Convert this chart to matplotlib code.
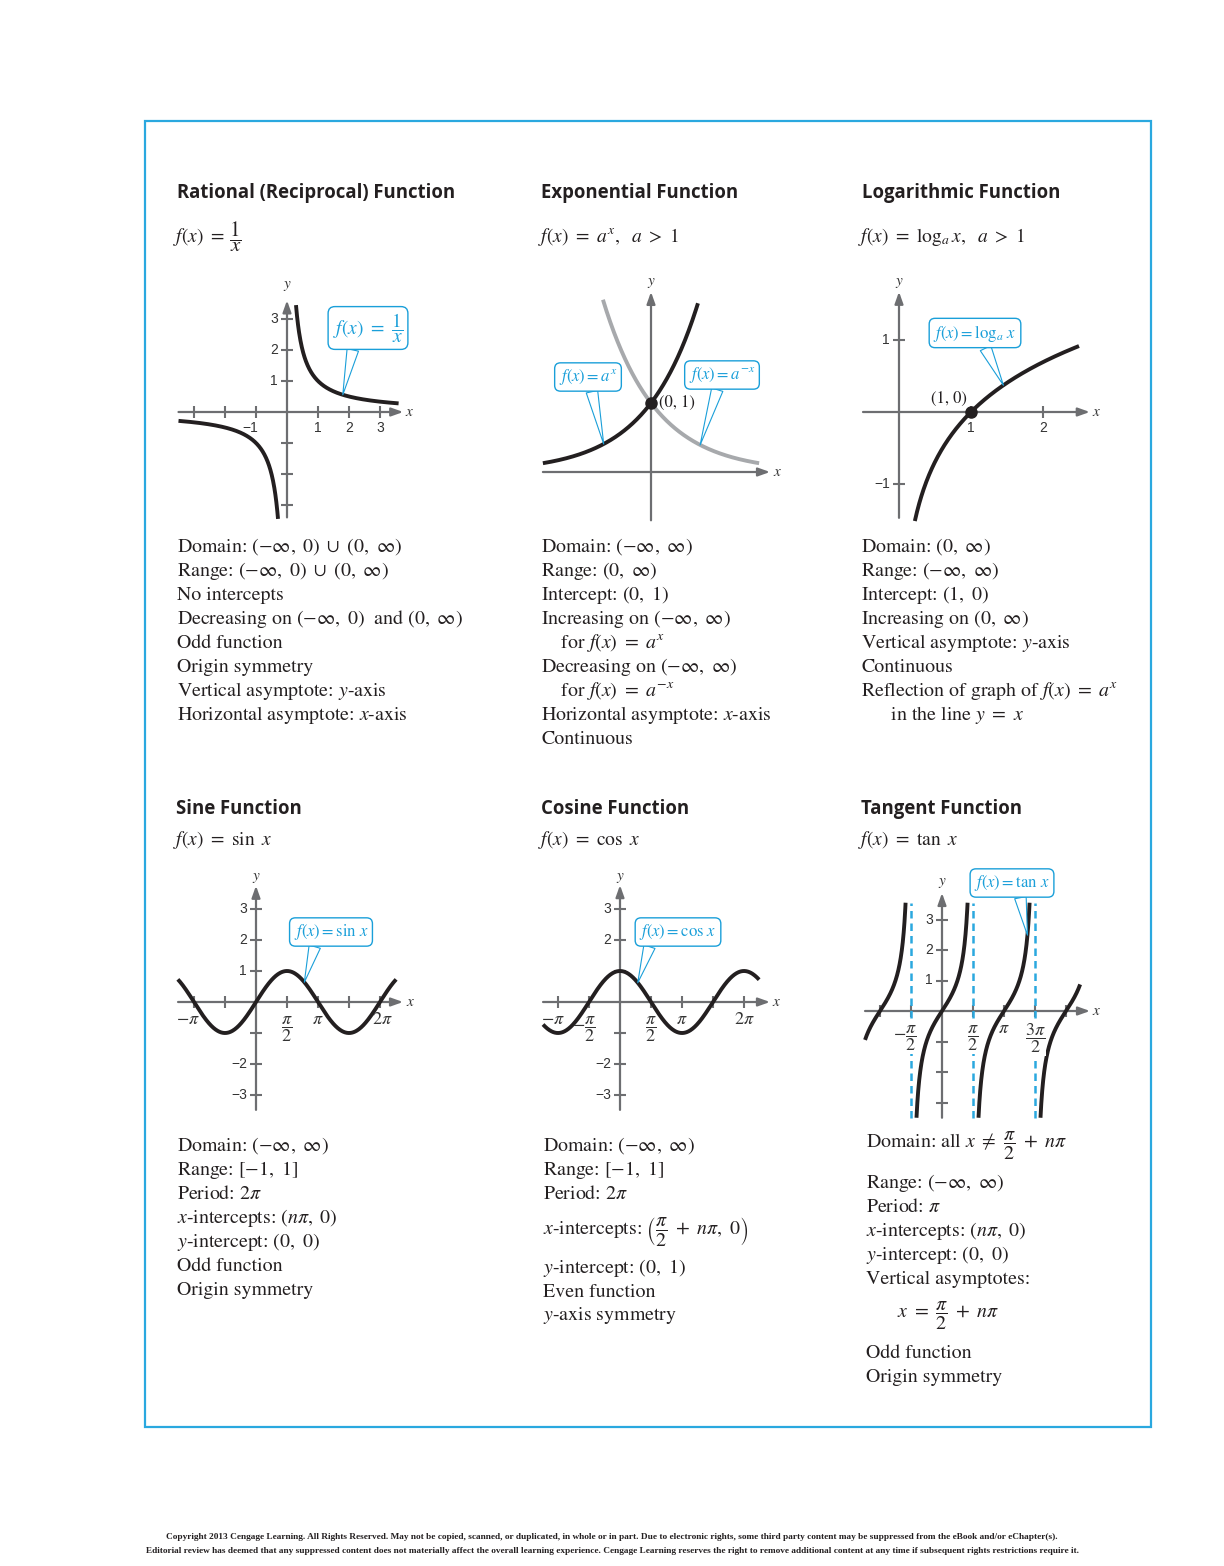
import numpy as np
import matplotlib
matplotlib.use('Agg')
import matplotlib.pyplot as plt
from matplotlib.patches import Rectangle
from matplotlib import font_manager

PI = np.pi
# ---------------- data ----------------
rational_neg_x = (-3.5, -0.29)
rational_pos_x = (0.29, 3.6)
rational_xticks = [-3, -2, -1, 1, 2, 3]
rational_yticks = [-3, -2, -1, 1, 2, 3]
rational_xticklabels = {-1: '−1', 1: '1', 2: '2', 3: '3'}
rational_yticklabels = {1: '1', 2: '2', 3: '3'}

exp_base = 2.0
exp_inc_x = (-2.97, 1.29)
exp_dec_x = (-1.32, 2.97)
exp_point = (0, 1)

log_x = (0.22, 2.5)
log_xticks = [1, 2]
log_yticks = [-1, 1]
log_xticklabels = {1: '1', 2: '2'}
log_yticklabels = {-1: '−1', 1: '1'}
log_point = (1, 0)

sin_x = (-3.96, 7.1)
cos_x = (-3.9, 7.05)
tan_x = (-3.9, 7.0)
tan_ymax, tan_ymin = 3.55, -3.5
trig_yticks = [-3, -2, -1, 1, 2, 3]
sin_yticklabels = {-3: '−3', -2: '−2', 1: '1', 2: '2', 3: '3'}
cos_yticklabels = {-3: '−3', -2: '−2', 2: '2', 3: '3'}
tan_yticklabels = {1: '1', 2: '2', 3: '3'}
sin_xticks = [-PI, -PI / 2, PI / 2, PI, 3 * PI / 2, 2 * PI]
cos_xticks = [-PI, -PI / 2, PI / 2, PI, 3 * PI / 2, 2 * PI]
tan_xticks = [-PI, -PI / 2, PI / 2, PI, 3 * PI / 2, 2 * PI]
tan_asymptotes = [-PI / 2, PI / 2, 3 * PI / 2]

titles = ['Rational (Reciprocal) Function', 'Exponential Function', 'Logarithmic Function',
          'Sine Function', 'Cosine Function', 'Tangent Function']
formulas = [r'$f(x)\ =$', r'$f(x)\ =\ a^x,\ \ a\ >\ 1$',
            r'$f(x)\ =\ \log_a x,\ \ a\ >\ 1$', r'$f(x)\ =\ \sin\ x$',
            r'$f(x)\ =\ \cos\ x$', r'$f(x)\ =\ \tan\ x$']
rational_fraction = r'$\dfrac{1}{x}$'

rational_props = [r'Domain: $(-\infty,\ 0)\ \cup\ (0,\ \infty)$',
                  r'Range: $(-\infty,\ 0)\ \cup\ (0,\ \infty)$',
                  'No intercepts',
                  r'Decreasing on $(-\infty,\ 0)$  and $(0,\ \infty)$',
                  'Odd function', 'Origin symmetry',
                  r'Vertical asymptote: $y$-axis',
                  r'Horizontal asymptote: $x$-axis']
exp_props = [r'Domain: $(-\infty,\ \infty)$', r'Range: $(0,\ \infty)$',
             r'Intercept: $(0,\ 1)$', r'Increasing on $(-\infty,\ \infty)$',
             r'    for $f(x)\ =\ a^x$', r'Decreasing on $(-\infty,\ \infty)$',
             r'    for $f(x)\ =\ a^{-x}$', r'Horizontal asymptote: $x$-axis', 'Continuous']
log_props = [r'Domain: $(0,\ \infty)$', r'Range: $(-\infty,\ \infty)$',
             r'Intercept: $(1,\ 0)$', r'Increasing on $(0,\ \infty)$',
             r'Vertical asymptote: $y$-axis', 'Continuous',
             r'Reflection of graph of $f(x)\ =\ a^x$', r'      in the line $y\ =\ x$']
sin_props = [r'Domain: $(-\infty,\ \infty)$', r'Range: $[-1,\ 1]$', r'Period: $2\pi$',
             r'$x$-intercepts: $(n\pi,\ 0)$', r'$y$-intercept: $(0,\ 0)$',
             'Odd function', 'Origin symmetry']
cos_props = [r'Domain: $(-\infty,\ \infty)$', r'Range: $[-1,\ 1]$', r'Period: $2\pi$',
             r'$x$-intercepts: $\left(\dfrac{\pi}{2}\ +\ n\pi,\ 0\right)$',
             r'$y$-intercept: $(0,\ 1)$', 'Even function', r'$y$-axis symmetry']
tan_props = [r'Domain: all $x\ \neq\ \dfrac{\pi}{2}\ +\ n\pi$', r'Range: $(-\infty,\ \infty)$',
             r'Period: $\pi$', r'$x$-intercepts: $(n\pi,\ 0)$', r'$y$-intercept: $(0,\ 0)$',
             'Vertical asymptotes:', r'$x\ =\ \dfrac{\pi}{2}\ +\ n\pi$',
             'Odd function', 'Origin symmetry']

copyright_lines = [
    'Copyright 2013 Cengage Learning. All Rights Reserved. May not be copied, scanned, or duplicated, in whole or in part. Due to electronic rights, some third party content may be suppressed from the eBook and/or eChapter(s).',
    'Editorial review has deemed that any suppressed content does not materially affect the overall learning experience. Cengage Learning reserves the right to remove additional content at any time if subsequent rights restrictions require it.']

# ---------------- style ----------------
W, H = 1224, 1566
CYAN = '#1a9fd9'
BORDER = '#2aa8df'
AXGRAY = '#6d6e71'
CURVE = '#231f20'
LIGHT = '#a7a9ac'
TEXT = '#231f20'

plt.rcParams['mathtext.fontset'] = 'stix'
plt.rcParams['font.family'] = ['STIXGeneral', 'DejaVu Serif']

names = {f.name for f in font_manager.fontManager.ttflist}
TITLE_FONT = 'Liberation Sans Narrow' if 'Liberation Sans Narrow' in names else 'Open Sans'
TICK_FONT = 'Liberation Sans Narrow' if 'Liberation Sans Narrow' in names else 'Liberation Sans'

fig = plt.figure(figsize=(W / 100, H / 100), dpi=100)
fig.patch.set_facecolor('white')
renderer = fig.canvas.get_renderer()


def ftext(x, y, s, **kw):
    kw.setdefault('va', 'center')
    kw.setdefault('ha', 'left')
    kw.setdefault('color', TEXT)
    return fig.text(x / W, 1 - y / H, s, **kw)


def fit(t, target):
    w = t.get_window_extent(renderer).width
    t.set_fontsize(t.get_fontsize() * target / w)
    return t.get_fontsize()


# border
fig.add_artist(Rectangle((145 / W, 1 - 1427 / H), (1151 - 145) / W, (1427 - 121) / H,
                         transform=fig.transFigure, fill=False, ec=BORDER, lw=1.6))

# titles
tpos = [(177, 193), (541, 193), (862, 193), (176, 809), (541, 809), (861, 809)]
t0 = ftext(*tpos[0], titles[0], fontfamily=TITLE_FONT, fontweight='bold', fontsize=14)
tsize = fit(t0, 278)
for (x, y), s in zip(tpos[1:], titles[1:]):
    ftext(x, y, s, fontfamily=TITLE_FONT, fontweight='bold', fontsize=tsize)

# formulas
fpos = [(173, 237), (538, 237), (858, 237), (173, 840), (538, 840), (858, 840)]
for (x, y), s in zip(fpos, formulas):
    ftext(x, y, s, fontsize=14)
ftext(235, 237, rational_fraction, fontsize=15, ha='center')

# body text
probe = ftext(177, 715, rational_props[7], fontsize=13)
bsize = fit(probe, 231)
probe.remove()
row1_y = [547 + 24 * i for i in range(9)]
for x, props in [(177, rational_props), (541, exp_props), (861, log_props)]:
    for y, s in zip(row1_y, props):
        ftext(x, y, s, fontsize=bsize)
sin_y = [1146, 1170, 1194, 1218, 1242, 1266, 1290]
cos_y = [1146, 1170, 1194, 1231, 1268, 1292, 1316]
tan_y = [1146, 1183, 1207, 1231, 1255, 1279, 1316, 1353, 1377]
for y, s in zip(sin_y, sin_props):
    ftext(177, y, s, fontsize=bsize)
for y, s in zip(cos_y, cos_props):
    ftext(543, y, s, fontsize=bsize)
for i, (y, s) in enumerate(zip(tan_y, tan_props)):
    ftext(897 if i == 6 else 866, y, s, fontsize=bsize)

# copyright
for y, s, wpx in [(1537, copyright_lines[0], 901), (1551, copyright_lines[1], 942)]:
    t = ftext(612, y, s, ha='center', fontsize=6, fontfamily='Liberation Serif', fontweight='bold')
    fit(t, wpx)


# ---------------- graphs ----------------
def make_graph(ox, oy, sx, sy, box):
    x0, y0, x1, y1 = box
    ax = fig.add_axes([x0 / W, 1 - y1 / H, (x1 - x0) / W, (y1 - y0) / H])
    ax.set_xlim((x0 - ox) / sx, (x1 - ox) / sx)
    ax.set_ylim((oy - y1) / sy, (oy - y0) / sy)
    ax.axis('off')
    ax.sx, ax.sy = sx, sy
    return ax


def draw_axes(ax, xa, ya, xlab, ylab):
    ap = dict(arrowstyle='-|>,head_length=0.7,head_width=0.25', color=AXGRAY, lw=1.6,
              shrinkA=0, shrinkB=0, mutation_scale=10)
    ax.annotate('', xy=(xa[1], 0), xytext=(xa[0], 0), arrowprops=ap, annotation_clip=False, zorder=1)
    ax.annotate('', xy=(0, ya[1]), xytext=(0, ya[0]), arrowprops=ap, annotation_clip=False, zorder=1)
    ax.text(xlab, 0, '$x$', fontsize=11, va='center', ha='center', color='#333333')
    ax.text(0, ylab, '$y$', fontsize=11, va='center', ha='center', color='#333333')


def draw_ticks(ax, xt, yt):
    hx = 6 / ax.sy
    hy = 6 / ax.sx
    for t in xt:
        ax.plot([t, t], [-hx, hx], color=AXGRAY, lw=1.5, zorder=1, solid_capstyle='butt')
    for t in yt:
        ax.plot([-hy, hy], [t, t], color=AXGRAY, lw=1.5, zorder=1, solid_capstyle='butt')


def xlabel(ax, t, s, dx=0, dy=-16):
    ax.annotate(s, xy=(t, 0), xytext=(dx, dy), textcoords='offset pixels', ha='center', va='center',
                fontsize=10, color='#333333', fontfamily=TICK_FONT)


def ylabel(ax, t, s, dx=-9):
    ax.annotate(s, xy=(0, t), xytext=(dx, 0), textcoords='offset pixels', ha='right', va='center',
                fontsize=10, color='#333333', fontfamily=TICK_FONT)


def callout(ax, s, center, tip, relpos=(0.3, 0.0), fs=12):
    ax.annotate(s, xy=tip, xytext=(center[0], H - center[1]), textcoords='figure pixels',
                ha='center', va='center', fontsize=fs, color=CYAN, zorder=6,
                bbox=dict(boxstyle='round,pad=0.25,rounding_size=0.35', fc='white', ec=CYAN, lw=1.0),
                arrowprops=dict(arrowstyle='wedge,tail_width=%.2f,shrink_factor=0.5' % (8.4 / fs),
                                fc='white', ec=CYAN, lw=0.8, relpos=relpos, shrinkA=0, shrinkB=0),
                annotation_clip=False)


CURVE_LW = 2.8

# 1. Rational
ax = make_graph(287, 412, 31, 31, (170, 278, 420, 525))
draw_axes(ax, (-3.5, 3.75), (-3.4, 3.6), 3.97, 4.06)
draw_ticks(ax, rational_xticks, rational_yticks)
for t, s in rational_xticklabels.items():
    xlabel(ax, t, s, dx=-6 if t < 0 else 0)
for t, s in rational_yticklabels.items():
    ylabel(ax, t, s)
for a, b in [rational_neg_x, rational_pos_x]:
    xs = np.linspace(a, b, 300)
    ax.plot(xs, 1 / xs, color=CURVE, lw=CURVE_LW, zorder=3, solid_capstyle='butt')
callout(ax, r'$f(x)\ =\ \dfrac{1}{x}$', (368, 328), (1.8, 1 / 1.8), fs=14)

# 2. Exponential
ax = make_graph(651, 472, 36.4, 69, (535, 278, 790, 525))
draw_axes(ax, (-2.97, 3.27), (-0.70, 2.61), 3.47, 2.74)
xs = np.linspace(*exp_dec_x, 300)
ax.plot(xs, exp_base ** (-xs), color=LIGHT, lw=CURVE_LW, zorder=2, solid_capstyle='butt')
xs = np.linspace(*exp_inc_x, 300)
ax.plot(xs, exp_base ** xs, color=CURVE, lw=CURVE_LW, zorder=3, solid_capstyle='butt')
ax.plot(*exp_point, 'o', ms=8, color=CURVE, zorder=5)
ax.annotate('(0, 1)', xy=exp_point, xytext=(8, 0), textcoords='offset pixels', va='center',
            ha='left', fontsize=12, color=TEXT)
callout(ax, r'$f(x) = a^x$', (588, 377), (-1.3, exp_base ** -1.3), relpos=(0.55, 0.0))
callout(ax, r'$f(x) = a^{-x}$', (722, 375), (1.35, exp_base ** -1.35), relpos=(0.45, 0.0))

# 3. Logarithmic
ax = make_graph(899, 412, 72, 72, (855, 278, 1110, 525))
draw_axes(ax, (-0.5, 2.65), (-1.47, 1.67), 2.74, 1.79)
draw_ticks(ax, log_xticks, log_yticks)
for t, s in log_xticklabels.items():
    xlabel(ax, t, s)
for t, s in log_yticklabels.items():
    ylabel(ax, t, s)
xs = np.linspace(*log_x, 300)
ax.plot(xs, np.log(xs), color=CURVE, lw=CURVE_LW, zorder=3, solid_capstyle='butt')
ax.plot(*log_point, 'o', ms=8, color=CURVE, zorder=5)
ax.annotate('(1, 0)', xy=log_point, xytext=(-4, 13), textcoords='offset pixels', va='center',
            ha='right', fontsize=12, color=TEXT)
callout(ax, r'$f(x) = \log_a\, x$', (975, 333), (1.45, np.log(1.45)), relpos=(0.6, 0.0))

SX = 62 / PI
pi_labels = {'-pi': r'$-\pi$', 'pi': r'$\pi$', '2pi': r'$2\pi$',
             'pi2': r'$\dfrac{\pi}{2}$', '-pi2': r'$-\dfrac{\pi}{2}$', '3pi2': r'$\dfrac{3\pi}{2}$'}


def pilabel(ax, t, key, dx=0, dy=-18, white=False):
    kw = {}
    if white:
        kw['bbox'] = dict(fc='white', ec='none', pad=0.5)
    ax.annotate(pi_labels[key], xy=(t, 0), xytext=(dx, dy), textcoords='offset pixels',
                ha='center', va='center', fontsize=13, color='#333333', zorder=4, **kw)


# 4. Sine
ax = make_graph(256, 1002, SX, 31, (170, 868, 420, 1125))
draw_axes(ax, (-3.95, 7.45), (-3.48, 3.75), 7.85, 4.0)
draw_ticks(ax, sin_xticks, trig_yticks)
for t, s in sin_yticklabels.items():
    ylabel(ax, t, s)
pilabel(ax, -PI, '-pi', dx=-6)
pilabel(ax, PI / 2, 'pi2', dy=-27)
pilabel(ax, PI, 'pi')
pilabel(ax, 2 * PI, '2pi', dx=2)
xs = np.linspace(*sin_x, 400)
ax.plot(xs, np.sin(xs), color=CURVE, lw=CURVE_LW, zorder=3, solid_capstyle='butt')
callout(ax, r'$f(x) = \sin\, x$', (331, 932), (2.45, np.sin(2.45)), relpos=(0.3, 0.0))

# 5. Cosine
ax = make_graph(620, 1002, SX, 31, (535, 868, 790, 1125))
draw_axes(ax, (-3.9, 7.6), (-3.48, 3.77), 7.95, 4.0)
draw_ticks(ax, cos_xticks, trig_yticks)
for t, s in cos_yticklabels.items():
    ylabel(ax, t, s)
pilabel(ax, -PI, '-pi', dx=-5)
pilabel(ax, -PI / 2, '-pi2', dx=-5, dy=-27)
pilabel(ax, PI / 2, 'pi2', dy=-27)
pilabel(ax, PI, 'pi')
pilabel(ax, 2 * PI, '2pi')
xs = np.linspace(*cos_x, 400)
ax.plot(xs, np.cos(xs), color=CURVE, lw=CURVE_LW, zorder=3, solid_capstyle='butt')
callout(ax, r'$f(x) = \cos\, x$', (678, 932), (0.9, np.cos(0.9)), relpos=(0.15, 0.0))

# 6. Tangent
ax = make_graph(942, 1011, SX, 30.5, (855, 868, 1110, 1125))
draw_axes(ax, (-3.9, 7.5), (-3.5, 3.87), 7.85, 4.2)
draw_ticks(ax, tan_xticks, trig_yticks)
for t, s in tan_yticklabels.items():
    ylabel(ax, t, s)
pilabel(ax, -PI / 2, '-pi2', dx=-6, dy=-27, white=True)
pilabel(ax, PI / 2, 'pi2', dy=-27, white=True)
pilabel(ax, PI, 'pi')
pilabel(ax, 3 * PI / 2, '3pi2', dy=-27, white=True)
for a in tan_asymptotes:
    ax.plot([a, a], [tan_ymin, tan_ymax], color=BORDER, lw=1.8, dashes=(3, 2), zorder=2)
for k in range(-1, 3):
    lo = max(k * PI + np.arctan(tan_ymin), tan_x[0])
    hi = min(k * PI + np.arctan(tan_ymax), tan_x[1])
    xs = np.linspace(lo, hi, 300)
    ax.plot(xs, np.tan(xs), color=CURVE, lw=CURVE_LW, zorder=3, solid_capstyle='butt')
callout(ax, r'$f(x) = \tan\, x$', (1012, 883), (4.33, np.tan(4.33)), relpos=(0.6, 0.0))

fig.savefig('out.png', dpi=100, facecolor='white')
